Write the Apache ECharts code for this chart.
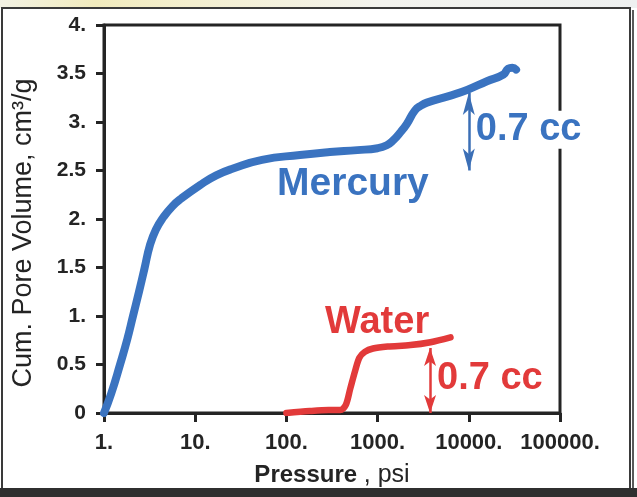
<!DOCTYPE html>
<html><head><meta charset="utf-8">
<script src="https://cdn.jsdelivr.net/npm/echarts@6/dist/echarts.min.js"></script>
<style>html,body{margin:0;padding:0;background:#fff}#c{width:637px;height:497px}</style>
</head><body><div id="c"></div>
<script>
// ---- data ----
const mercuryPressure = [1, 1.2, 1.5, 1.8, 2.08, 2.42, 2.78, 3.19, 3.7, 4.49, 5.6, 7.0, 11.3, 17, 26, 54, 141, 300, 600, 1000, 1260, 1480, 1800, 2090, 2570, 3000, 3470, 6170, 9550, 15800, 24000, 27000, 30000, 33000];
const mercuryVolume   = [0, 0.2, 0.5, 0.76, 1.0, 1.25, 1.49, 1.73, 1.89, 2.02, 2.13, 2.21, 2.35, 2.45, 2.52, 2.61, 2.66, 2.69, 2.71, 2.73, 2.76, 2.81, 2.9, 2.98, 3.12, 3.17, 3.20, 3.27, 3.33, 3.42, 3.49, 3.55, 3.56, 3.54];
const waterPressure = [100, 180, 290, 389, 447, 501, 569, 631, 724, 891, 1290, 2290, 3800, 6300];
const waterVolume   = [0, 0.02, 0.03, 0.03, 0.08, 0.25, 0.44, 0.57, 0.63, 0.665, 0.685, 0.70, 0.73, 0.78];
const xTickLabels = ['1.', '10.', '100.', '1000.', '10000.', '100000.'];
const yTickLabels = ['0', '0.5', '1.', '1.5', '2.', '2.5', '3.', '3.5', '4.'];
const seriesNames = ['Mercury', 'Water'];
const deltaText = '0.7 cc';

const FONT = "'Liberation Sans', Arial, Helvetica, sans-serif";
const BLUE = '#3a73c0';
const RED = '#e23a3a';
const INK = '#242424';

const chart = echarts.init(document.getElementById('c'), null, {renderer: 'canvas'});
const zip = (a, b) => a.map((v, i) => [v, b[i]]);

const option = {
  animation: false,
  backgroundColor: '#ffffff',
  graphic: [
    {type: 'rect', shape: {x: 0, y: 0, width: 637, height: 8}, z: -10,
     style: {fill: new echarts.graphic.LinearGradient(0, 0, 1, 0, [
       {offset: 0, color: '#f3f2e4'}, {offset: 0.15, color: '#f1ebbd'},
       {offset: 0.3, color: '#f4efcf'}, {offset: 0.6, color: '#f3f3ee'}, {offset: 1, color: '#eef0f0'}])}},
    {type: 'rect', shape: {x: 2, y: 8, width: 628, height: 481}, z: -5,
     style: {fill: 'none', stroke: '#3a3a3a', lineWidth: 2}},
    {type: 'line', shape: {x1: 633, y1: 10, x2: 633, y2: 489}, z: -5,
     style: {stroke: '#5a5a5a', lineWidth: 2}},
    {type: 'rect', shape: {x: 0, y: 488, width: 637, height: 9}, z: -5,
     style: {fill: '#2f2f2f'}}
  ],
  grid: {left: 104, right: 77, top: 25, bottom: 84, show: true,
         borderColor: INK, borderWidth: 3, backgroundColor: 'transparent'},
  xAxis: {
    type: 'log', logBase: 10, min: 1, max: 100000,
    name: '{b|Pressure} {n|, psi}', nameLocation: 'middle', nameGap: 50,
    nameTextStyle: {color: INK, fontFamily: FONT, fontSize: 24,
      rich: {b: {fontWeight: 'bold', fontSize: 24, fontFamily: FONT, color: INK},
             n: {fontWeight: 'normal', fontSize: 25, fontFamily: FONT, color: INK}}},
    axisLine: {show: true, lineStyle: {color: INK, width: 3}},
    axisTick: {show: true, inside: false, length: 9, lineStyle: {color: INK, width: 3}},
    minorTick: {show: false},
    splitLine: {show: false},
    axisLabel: {color: INK, fontFamily: FONT, fontSize: 22, fontWeight: 'bold', margin: 19,
      formatter: v => xTickLabels[Math.round(Math.log10(v))]}
  },
  yAxis: {
    type: 'value', min: 0, max: 4, interval: 0.5,
    name: 'Cum. Pore Volume, cm³/g', nameLocation: 'middle', nameRotate: 90, nameGap: 67,
    nameTextStyle: {color: INK, fontFamily: FONT, fontSize: 27, padding: [0, 28, 0, 0]},
    axisLine: {show: true, lineStyle: {color: INK, width: 3}},
    axisTick: {show: true, inside: false, length: 8, lineStyle: {color: INK, width: 3}},
    splitLine: {show: false},
    axisLabel: {color: INK, fontFamily: FONT, fontSize: 21, fontWeight: 'bold', margin: 18,
      formatter: (v) => yTickLabels[Math.round(v / 0.5)]}
  },
  series: [
    {
      name: seriesNames[0], type: 'line', data: zip(mercuryPressure, mercuryVolume),
      showSymbol: false, symbol: 'none', smooth: 0.5, z: 3,
      lineStyle: {color: BLUE, width: 8, cap: 'round', join: 'round'},
      markLine: {
        silent: true, symbol: ['arrow', 'arrow'], symbolSize: [9, 22],
        lineStyle: {color: '#3b6fb6', width: 2.5, type: 'solid'},
        label: {show: false}, emphasis: {disabled: true},
        data: [[{coord: [10000, 3.30]}, {coord: [10000, 2.50]}]]
      },
      markPoint: {
        silent: true, symbol: 'circle', symbolSize: 0, itemStyle: {color: 'transparent'},
        data: [
          {coord: [79, 2.36], label: {show: true, position: 'right', distance: 0,
            formatter: seriesNames[0], color: BLUE, fontFamily: FONT, fontWeight: 'bold', fontSize: 39}},
          {coord: [10000, 2.92], label: {show: true, position: 'right', distance: 7,
            formatter: deltaText, color: BLUE, fontFamily: FONT, fontWeight: 'bold', fontSize: 38,
            backgroundColor: '#ffffff', padding: [0, 0, 0, 0]}}
        ]
      }
    },
    {
      name: seriesNames[1], type: 'line', data: zip(waterPressure, waterVolume),
      showSymbol: false, symbol: 'none', smooth: 0.3, z: 3,
      lineStyle: {color: RED, width: 6.5, cap: 'round', join: 'round'},
      markLine: {
        silent: true, symbol: ['arrow', 'arrow'], symbolSize: [9, 18],
        lineStyle: {color: RED, width: 2.5, type: 'solid'},
        label: {show: false}, emphasis: {disabled: true},
        data: [[{coord: [3760, 0.67]}, {coord: [3760, 0.0]}]]
      },
      markPoint: {
        silent: true, symbol: 'circle', symbolSize: 0, itemStyle: {color: 'transparent'},
        data: [
          {coord: [265, 0.93], label: {show: true, position: 'right', distance: 0,
            formatter: seriesNames[1], color: RED, fontFamily: FONT, fontWeight: 'bold', fontSize: 38}},
          {coord: [3760, 0.36], label: {show: true, position: 'right', distance: 7,
            formatter: deltaText, color: RED, fontFamily: FONT, fontWeight: 'bold', fontSize: 38}}
        ]
      }
    }
  ]
};
chart.setOption(option);
</script>
</body></html>
